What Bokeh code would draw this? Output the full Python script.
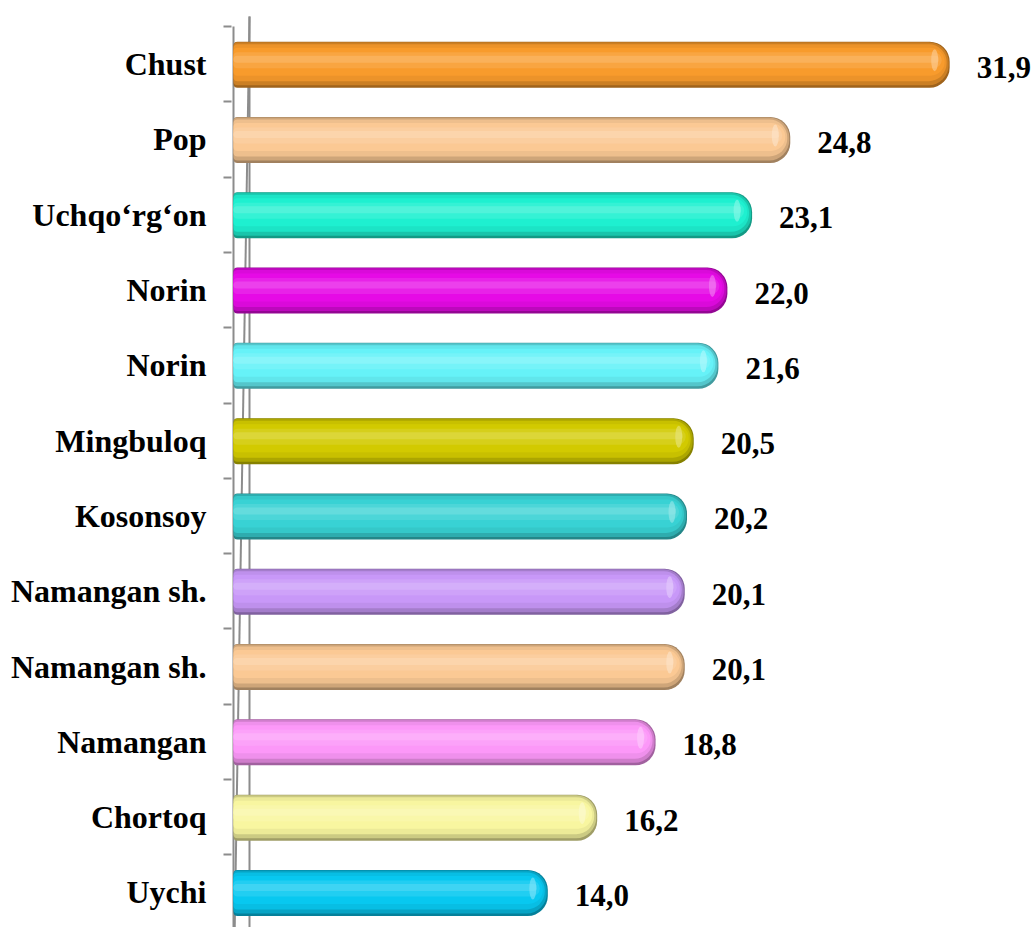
from bokeh.plotting import figure
from bokeh.models import Range1d, FixedTicker, ColumnDataSource
from bokeh.core.properties import value
from bokeh.embed import file_html
from bokeh.resources import INLINE

# ---------------- data ----------------
categories = ["Chust", "Pop", "Uchqo\u2018rg\u2018on", "Norin", "Norin", "Mingbuloq",
              "Kosonsoy", "Namangan sh.", "Namangan sh.", "Namangan", "Chortoq", "Uychi"]
values = [31.9, 24.8, 23.1, 22.0, 21.6, 20.5, 20.2, 20.1, 20.1, 18.8, 16.2, 14.0]
colors = ["#F89B2C", "#FBC994", "#1EF0D0", "#E60AE6", "#66F2F8", "#D2CA00",
          "#38D2D4", "#C898F8", "#FBC994", "#FC98F8", "#F8F6A0", "#08C8F0"]
labels = [f"{v:.1f}".replace(".", ",") for v in values]

# ---------------- layout ----------------
W, H = 1035, 927
LEFT, TOP = 231, 15
X_START_PX = 2
frame_w = W - LEFT
pxx = 22.45
x_start = -X_START_PX / pxx
x_end = x_start + frame_w / pxx
pxy = 75.3
frame_h = H - TOP
y_top = -0.5 - 11 / pxy
y_bottom = y_top + frame_h / pxy

p = figure(width=W, height=H, output_backend="svg", toolbar_location=None,
           x_range=Range1d(x_start, x_end), y_range=Range1d(y_bottom, y_top),
           min_border_left=LEFT, min_border_top=TOP, min_border_bottom=0,
           min_border_right=0)
p.outline_line_color = None
p.xgrid.visible = False
p.ygrid.visible = False
p.xaxis.visible = False
p.background_fill_color = "white"
p.border_fill_color = "white"

idx = list(range(len(categories)))

# 3D wall lines
AX = "#8C8C8C"
bx = 16 / pxx
by = 10 / pxy
p.segment(x0=[0, bx, 0], y0=[-0.5, -0.5 - by, y_bottom + 1],
          x1=[0, bx, bx], y1=[y_bottom + 1, y_bottom + 1, -0.5 - by],
          line_color=AX, line_width=2)


def mix(c, t, f):
    c = c.lstrip("#")
    t = t.lstrip("#")
    a = [int(c[i:i + 2], 16) for i in (0, 2, 4)]
    b = [int(t[i:i + 2], 16) for i in (0, 2, 4)]
    r = [round(a[k] * (1 - f) + b[k] * f) for k in range(3)]
    return "#%02x%02x%02x" % tuple(r)


# (height px, y offset px, right inset px, target, fraction)
layers = [
    (46, 0.5, 0, "#000000", 0.36),
    (43, -0.5, 1, "#000000", 0.18),
    (37, -1.5, 3, "#000000", 0.05),
    (28, -2.5, 5, "#000000", 0.0),
    (16, -4, 8, "#FFFFFF", 0.10),
    (7, -5, 11, "#FFFFFF", 0.22),
]
for h, dy, inset, tgt, f in layers:
    src = ColumnDataSource(dict(
        y=[i + dy / pxy for i in idx],
        r=[v - inset / pxx for v in values],
        c=[mix(c, tgt, f) for c in colors],
    ))
    rad = int(min(h // 2, 20))
    p.hbar(y="y", left=0, right="r", height=h / pxy, fill_color="c",
           line_color=None, source=src,
           border_radius=(4, rad, rad, 4))

# cap highlight
hsrc = ColumnDataSource(dict(x=[v - 15 / pxx for v in values],
                             y=[i - 4 / pxy for i in idx],
                             c=[mix(c, "#FFFFFF", 0.5) for c in colors]))
p.ellipse(x="x", y="y", width=7, height=22, width_units="screen",
          height_units="screen", fill_color="c", fill_alpha=0.6,
          line_color=None, source=hsrc)

# value labels
lsrc = ColumnDataSource(dict(x=values, y=idx, t=labels))
p.text(x="x", y="y", text="t", source=lsrc, x_offset=27, y_offset=3,
       text_baseline="middle", text_align="left",
       text_font=value("Liberation Serif"), text_font_style="bold",
       text_font_size="31px", text_color="black")

# y axis (categories)
ya = p.yaxis[0]
ya.ticker = FixedTicker(ticks=idx, minor_ticks=[i - 0.5 for i in range(len(idx) + 1)])
ya.major_label_overrides = {i: n for i, n in zip(idx, categories)}
ya.axis_line_color = None
ya.major_tick_in = 0
ya.major_tick_out = 0
ya.minor_tick_in = 0
ya.minor_tick_out = 8
ya.minor_tick_line_color = AX
ya.minor_tick_line_width = 2
ya.major_label_standoff = 17
ya.major_label_text_font = "Liberation Serif"
ya.major_label_text_font_style = "bold"
ya.major_label_text_font_size = "32px"
ya.major_label_text_color = "black"

open("out.html", "w").write(file_html(p, INLINE))
